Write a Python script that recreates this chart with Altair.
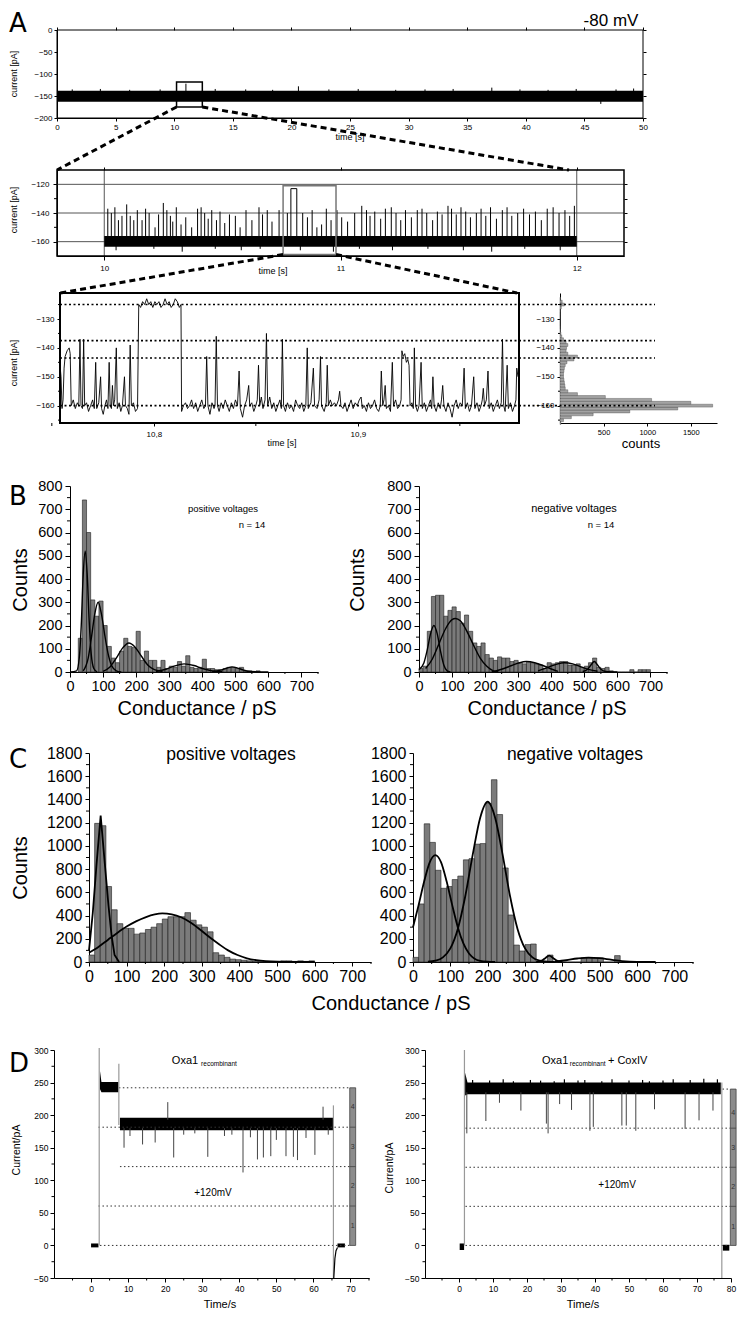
import altair as alt
import pandas as pd

FONT = "Liberation Sans"
LETTER_FONT = "DejaVu Sans"

# ======================= DATA =======================
# ---- A (top): 50 s recording at -80 mV, envelope of the noisy band ----
a1_time = [0, 50]
a1_low = [-163, -163]
a1_high = [-138, -138]
a1_spike_time = [1.3, 3.7, 6.2, 8.8, 11.0, 13.5, 16.1, 18.4, 20.6, 23.2, 25.7, 28.9, 31.4, 33.8, 37.1, 39.5,
                 41.9, 44.3, 46.4, 47.7, 49.2]
a1_spike_top = [-135, -134, -136, -135, -122, -134, -135, -136, -128, -135, -134, -136, -135, -134, -131, -135,
                -136, -134, -168, -135, -133]
a1_window_time = [10.2, 12.4]
a1_window_current = [-118, -175]

# ---- A (middle): 10-12 s ----
a2_time = [10.0, 12.0]
a2_low = [-163.5, -163.5]
a2_high = [-156, -156]
a2_dip_time = [10.05, 10.21, 10.33, 10.47, 10.58, 10.66, 10.83, 10.97, 11.08, 11.22, 11.37, 11.52, 11.64, 11.78, 11.93]
a2_dip_low = [-166, -165, -167, -165, -166, -165, -166, -167, -165, -166, -165, -166, -167, -165, -166]
a2_spike_time = [10.015, 10.03, 10.045, 10.06, 10.075, 10.095, 10.11, 10.125, 10.14, 10.16, 10.175, 10.19, 10.215, 10.23,
                 10.25, 10.265, 10.28, 10.29, 10.305, 10.325, 10.345, 10.37, 10.395, 10.41, 10.425, 10.44, 10.455, 10.475,
                 10.49, 10.51, 10.53, 10.555, 10.575, 10.6, 10.625, 10.655, 10.67, 10.69, 10.71, 10.74, 10.775, 10.84,
                 10.86, 10.88, 10.9, 10.92, 10.94, 10.96, 10.985, 11.005, 11.03, 11.06, 11.09, 11.11, 11.125, 11.145,
                 11.17, 11.19, 11.215, 11.235, 11.255, 11.275, 11.3, 11.325, 11.345, 11.365, 11.39, 11.41, 11.43, 11.455,
                 11.47, 11.49, 11.51, 11.53, 11.55, 11.575, 11.595, 11.615, 11.635, 11.66, 11.685, 11.705, 11.725, 11.75,
                 11.775, 11.8, 11.825, 11.85, 11.875, 11.9, 11.925, 11.95, 11.97, 11.99]
a2_spike_top = [-137, -140, -136, -145, -142, -134, -142, -145, -138, -145, -137, -140, -150, -141,
                -133, -138, -142, -146, -136, -148, -143, -150, -137, -136, -140, -144, -138, -145,
                -139, -147, -141, -142, -150, -138, -145, -136, -141, -138, -146, -138, -140, -140,
                -143, -138, -150, -148, -137, -145, -138, -143, -146, -140, -135, -138, -142, -139,
                -144, -137, -136, -140, -145, -138, -143, -138, -137, -140, -145, -139, -141, -135,
                -137, -141, -136, -139, -143, -140, -137, -142, -136, -144, -138, -136, -142, -140,
                -137, -141, -139, -145, -137, -136, -140, -138, -142, -135]
a2_block_time = [10.79, 10.815]
a2_block_current = [-160, -123]
a2_window_time = [10.757, 10.981]
a2_window_current = [-121, -169]
a2_grid_current = [-120, -140, -160]
a2_grid_time = [10, 12]

# ---- A (bottom): 10.75-10.98 s, (time [s], current [pA]) ----
a3_points = [
    (10.7540, -146), (10.7545, -150), (10.7550, -161), (10.7555, -158), (10.7560, -147), (10.7565, -143),
    (10.7575, -141), (10.7585, -140), (10.7590, -142), (10.7595, -160), (10.7605, -158), (10.7615, -161),
    (10.7625, -159), (10.7632, -160), (10.7638, -137), (10.7643, -160), (10.7650, -161), (10.7656, -137),
    (10.7661, -160), (10.7670, -159), (10.7680, -162), (10.7690, -160), (10.7700, -158), (10.7708, -161),
    (10.7715, -145), (10.7720, -161), (10.7730, -159), (10.7739, -150), (10.7744, -161), (10.7752, -163),
    (10.7760, -160), (10.7768, -158), (10.7775, -161), (10.7781, -145), (10.7786, -160), (10.7792, -161),
    (10.7797, -153), (10.7802, -160), (10.7808, -158), (10.7816, -140), (10.7821, -161), (10.7830, -159),
    (10.7838, -162), (10.7846, -160), (10.7856, -150), (10.7861, -160), (10.7870, -161), (10.7878, -163),
    (10.7884, -139), (10.7890, -160), (10.7900, -159), (10.7910, -162), (10.7920, -161), (10.7926, -125),
    (10.7935, -126), (10.7945, -124), (10.7955, -125), (10.7965, -123), (10.7975, -125), (10.7985, -124),
    (10.7995, -126), (10.8005, -124), (10.8015, -125), (10.8025, -124), (10.8035, -126), (10.8045, -125),
    (10.8055, -123), (10.8065, -125), (10.8075, -124), (10.8085, -126), (10.8095, -125), (10.8105, -123),
    (10.8115, -124), (10.8125, -126), (10.8133, -125), (10.8136, -162), (10.8145, -160), (10.8155, -159),
    (10.8165, -161), (10.8175, -160), (10.8185, -158), (10.8195, -161), (10.8205, -159), (10.8215, -162),
    (10.8225, -160), (10.8235, -158), (10.8245, -161), (10.8253, -160), (10.8259, -143), (10.8265, -160),
    (10.8275, -163), (10.8285, -159), (10.8295, -161), (10.8300, -160), (10.8306, -136), (10.8312, -160),
    (10.8320, -162), (10.8330, -159), (10.8340, -161), (10.8350, -158), (10.8360, -160), (10.8370, -162),
    (10.8380, -159), (10.8390, -161), (10.8400, -158), (10.8410, -160), (10.8418, -148), (10.8424, -161),
    (10.8435, -164), (10.8445, -160), (10.8455, -158), (10.8465, -153), (10.8470, -160), (10.8480, -159),
    (10.8490, -162), (10.8500, -160), (10.8507, -158), (10.8513, -146), (10.8519, -160), (10.8527, -157),
    (10.8535, -161), (10.8545, -158), (10.8552, -135), (10.8558, -160), (10.8568, -157), (10.8578, -161),
    (10.8588, -159), (10.8598, -162), (10.8608, -160), (10.8618, -158), (10.8625, -161), (10.8630, -137),
    (10.8636, -160), (10.8645, -162), (10.8655, -159), (10.8665, -161), (10.8675, -160), (10.8685, -162),
    (10.8695, -158), (10.8705, -160), (10.8715, -161), (10.8725, -159), (10.8735, -162), (10.8745, -160),
    (10.8752, -140), (10.8757, -161), (10.8770, -159), (10.8782, -147), (10.8788, -160), (10.8800, -161),
    (10.8810, -158), (10.8817, -143), (10.8822, -160), (10.8835, -162), (10.8845, -159), (10.8850, -146),
    (10.8856, -160), (10.8865, -158), (10.8875, -160), (10.8885, -159), (10.8895, -160), (10.8905, -158),
    (10.8911, -155), (10.8917, -160), (10.8927, -161), (10.8937, -159), (10.8947, -162), (10.8957, -160),
    (10.8967, -158), (10.8977, -161), (10.8987, -159), (10.8997, -160), (10.9007, -158), (10.9016, -157),
    (10.9022, -161), (10.9032, -160), (10.9042, -162), (10.9052, -159), (10.9062, -161), (10.9072, -160),
    (10.9082, -158), (10.9092, -161), (10.9102, -162), (10.9110, -160), (10.9115, -148), (10.9122, -160),
    (10.9128, -158), (10.9134, -153), (10.9140, -161), (10.9150, -160), (10.9160, -162), (10.9169, -145),
    (10.9175, -160), (10.9185, -158), (10.9195, -161), (10.9205, -160), (10.9212, -158), (10.9216, -141),
    (10.9222, -143), (10.9230, -142), (10.9238, -145), (10.9245, -144), (10.9251, -146), (10.9256, -160),
    (10.9265, -159), (10.9272, -161), (10.9277, -140), (10.9283, -160), (10.9292, -162), (10.9300, -160),
    (10.9310, -145), (10.9316, -161), (10.9326, -159), (10.9336, -162), (10.9346, -160), (10.9356, -158),
    (10.9362, -161), (10.9368, -150), (10.9374, -160), (10.9384, -162), (10.9394, -159), (10.9404, -161),
    (10.9410, -158), (10.9416, -153), (10.9422, -160), (10.9432, -162), (10.9442, -159), (10.9452, -161),
    (10.9462, -164), (10.9472, -160), (10.9482, -158), (10.9492, -161), (10.9502, -159), (10.9512, -160),
    (10.9521, -147), (10.9527, -161), (10.9537, -159), (10.9547, -162), (10.9557, -160), (10.9568, -150),
    (10.9574, -161), (10.9584, -159), (10.9594, -162), (10.9604, -160), (10.9610, -158), (10.9615, -154),
    (10.9621, -160), (10.9630, -158), (10.9638, -148), (10.9644, -161), (10.9654, -159), (10.9664, -162),
    (10.9674, -160), (10.9684, -158), (10.9694, -161), (10.9703, -159), (10.9709, -137), (10.9715, -160),
    (10.9722, -162), (10.9732, -146), (10.9738, -161), (10.9748, -159), (10.9758, -162), (10.9768, -160),
    (10.9775, -158), (10.9779, -147), (10.9785, -150),
]
a3_time = [p[0] for p in a3_points]
a3_current = [p[1] for p in a3_points]
a3_levels = [-125, -137.5, -143.5, -160]

# ---- A (histogram of the bottom trace) ----
a4_current = [-166, -165, -164, -163, -162, -161, -160, -159, -158, -157, -156, -155, -154, -153, -152, -151,
              -150, -149, -148, -147, -146, -145, -144, -143, -142, -141, -140, -139, -138, -137, -136, -135,
              -134, -133, -132, -131, -130, -129, -128, -127, -126, -125, -124, -123]
a4_counts = [10, 40, 130, 380, 800, 1350, 1750, 1500, 1050, 520, 200, 90, 60, 55, 50, 45,
             40, 40, 45, 50, 60, 80, 160, 200, 90, 70, 75, 90, 70, 40, 20, 10,
             5, 3, 2, 2, 2, 2, 2, 3, 15, 50, 25, 5]

# ---- B: conductance histograms (bin 12.5 pS) ----
b_bin = 12.5
bl_start = [25 + 12.5 * i for i in range(44)]
bl_counts = [145, 740, 600, 310, 240, 305, 200, 110, 60, 40, 90, 145, 110, 105, 175, 50, 90, 50, 50, 20, 50, 15,
             25, 20, 45, 25, 70, 20, 15, 20, 55, 15, 15, 10, 10, 15, 20, 20, 15, 20, 5, 5, 0, 5]
br_start = [12.5 * i for i in range(56)]
br_counts = [15, 25, 175, 325, 330, 330, 240, 265, 280, 260, 210, 245, 175, 125, 110, 125, 75, 60, 50, 65, 60,
             60, 45, 50, 40, 35, 45, 40, 35, 30, 15, 40, 35, 40, 45, 45, 30, 30, 35, 20, 25, 40, 60, 20, 15, 20,
             5, 0, 0, 0, 0, 10, 0, 10, 10, 10]
bl_fit_id = [1] * 11 + [2] * 11 + [3] * 10 + [4] * 8 + [5] * 8
bl_fit_x = [0, 20, 28, 34, 40, 46, 52, 58, 64, 72, 82,
            40, 55, 65, 75, 85, 95, 105, 115, 125, 140, 155,
            100, 120, 140, 160, 178, 195, 215, 235, 255, 280,
            260, 290, 315, 345, 375, 400, 430, 460,
            430, 455, 475, 490, 505, 525, 545, 600]
bl_fit_y = [0, 5, 60, 200, 420, 520, 420, 220, 80, 15, 0,
            5, 60, 150, 250, 300, 250, 160, 80, 30, 5, 0,
            3, 20, 60, 105, 125, 110, 70, 30, 10, 2,
            2, 12, 25, 35, 28, 15, 5, 1,
            2, 8, 17, 22, 18, 8, 2, 0]
br_fit_id = [1] * 10 + [2] * 13 + [3] * 9 + [4] * 8 + [5] * 8
br_fit_x = [0, 15, 25, 35, 45, 55, 65, 75, 85, 95,
            20, 40, 60, 80, 100, 110, 125, 145, 165, 185, 205, 225, 240,
            220, 250, 275, 300, 325, 350, 375, 400, 420,
            360, 390, 415, 440, 465, 490, 515, 540,
            495, 510, 520, 530, 540, 550, 565, 600]
br_fit_y = [10, 40, 95, 165, 200, 165, 90, 30, 5, 0,
            15, 55, 120, 185, 225, 230, 220, 175, 115, 60, 25, 5, 0,
            0, 12, 25, 38, 45, 40, 28, 13, 3,
            5, 20, 33, 40, 35, 22, 10, 3,
            2, 12, 30, 45, 30, 12, 2, 0]

# ---- C: conductance histograms (bin 15 pS) ----
c_bin = 15
cl_start = [15 * i for i in range(40)]
cl_counts = [60, 1194, 1174, 650, 450, 330, 290, 290, 240, 250, 280, 300, 330, 370, 390, 390, 390, 425, 360, 320,
             300, 260, 80, 60, 40, 25, 20, 15, 10, 5, 5, 5, 5, 5, 10, 10, 5, 10, 5, 10]
cr_start = [15 * i for i in range(37)]
cr_counts = [40, 500, 1190, 1030, 790, 635, 650, 710, 740, 880, 890, 1015, 1020, 1365, 1570, 1270, 810, 405, 146,
             95, 150, 155, 0, 0, 60, 0, 0, 0, 0, 0, 35, 35, 35, 35, 0, 0, 55]
cl_fit1_x = [0, 10, 20, 31, 42, 52, 60, 68, 80]
cl_fit1_y = [100, 420, 840, 1260, 850, 480, 230, 60, 0]
cl_fit2_x = [0, 25, 50, 75, 100, 125, 150, 175, 195, 220, 245, 270, 295, 320, 345, 370, 395, 420, 445, 470, 500, 540, 600]
cl_fit2_y = [80, 130, 190, 250, 305, 350, 385, 410, 418, 410, 385, 340, 280, 215, 155, 100, 60, 32, 16, 7, 2, 0, 0]
cr_fit_id = [1] * 15 + [2] * 18 + [3] * 7 + [4] * 9
cr_fit_x = [0, 15, 30, 45, 60, 75, 90, 105, 120, 135, 150, 165, 180, 200, 220,
            40, 60, 80, 100, 120, 140, 160, 180, 200, 220, 240, 260, 280, 300, 320, 340, 360, 380,
            330, 345, 355, 365, 375, 385, 400,
            380, 410, 440, 470, 500, 530, 560, 600, 650]
cr_fit_y = [300, 490, 695, 860, 920, 860, 695, 490, 300, 160, 73, 29, 10, 2, 0,
            2, 11, 40, 117, 285, 566, 925, 1243, 1380, 1243, 925, 566, 285, 117, 40, 11, 2, 0,
            0, 12, 35, 55, 35, 12, 0,
            3, 15, 30, 38, 33, 20, 8, 1, 0]

# ---- D left: Oxa1 recombinant, +120 mV ----
d1_band_seg = [1, 1, 2, 2, 2, 3, 3, 4, 4]
d1_band_time = [0, 2.0, 2.4, 2.8, 7.4, 7.8, 65.3, 66.5, 68.5]
d1_band_low = [-3, -3, 240, 235, 235, 177, 177, -3, -3]
d1_band_high = [3, 3, 268, 251, 251, 196, 196, 3, 3]
d1_spike_time = [8.9, 10.5, 13.9, 17.3, 20.7, 22.3, 25.0, 28.0, 31.5, 36.0, 38.0, 41.0, 43.0, 44.9, 46.5, 48.5,
                 50.0, 52.6, 54.6, 55.7, 58.0, 60.4, 62.6, 64.0]
d1_spike_top = [150, 168, 155, 158, 220, 135, 170, 172, 136, 168, 170, 112, 166, 132, 135, 137,
                162, 137, 136, 131, 165, 139, 213, 170]
d1_trans_time = [2.2, 7.5, 65.4]
d1_trans_from = [0, 185, 215]
d1_trans_to = [303, 279, -50]
d1_recovery_time = [65.5, 65.8, 66.1, 66.5]
d1_recovery_current = [-50, -20, -8, -3]
d1_level_current = [0, 60.5, 121, 181.5, 242]
d1_level_start = [2.4, 2.0, 7.8, 2.0, 7.5]
d1_level_end = 69.8
d1_bar_time = [69.8, 71.4]
d1_bar_label_current = [30, 91, 151, 212]

# ---- D right: Oxa1 recombinant + CoxIV, +120 mV ----
d2_band_seg = [1, 1, 2, 2, 2, 3, 3]
d2_band_time = [0.2, 1.5, 1.8, 2.5, 77, 77.6, 79.5]
d2_band_low = [-7, -7, 230, 232, 232, -8, -8]
d2_band_high = [3, 3, 265, 250, 250, 1, 1]
d2_noise_time = [4, 9, 13, 16, 21, 24, 28, 31, 35, 37, 42, 45, 50, 54, 56, 60, 63, 68, 72, 76]
d2_noise_top = [254, 253, 255, 252, 254, 253, 252, 255, 253, 254, 252, 255, 253, 254, 252, 253, 255, 254, 256, 255]
d2_spike_time = [2.3, 7.9, 11.9, 18.2, 25.7, 26.2, 29.6, 33.1, 38.5, 39.5, 47.9, 49.2, 52.0, 57.5, 66.5, 70.6, 74.7]
d2_spike_top = [172, 191, 219, 207, 187, 172, 217, 208, 176, 182, 184, 184, 176, 209, 179, 192, 207]
d2_trans_time = [1.6, 77.3]
d2_trans_from = [0, 250]
d2_trans_to = [300, -50]
d2_level_current = [0, 60, 120, 180, 240]
d2_level_start = [1.9, 1.9, 1.9, 1.9, 77.5]
d2_level_end = 79.8
d2_bar_time = [79.8, 81.5]
d2_bar_label_current = [29, 90, 149, 204]

# ======================= HELPERS =======================
W_ALL, H_ALL = 729, 1303   # drawing area (page minus the 8 px margin)
M = 8                       # page margin


class Panel:
    """A sub-plot placed at page pixel coordinates, with its own scales."""

    def __init__(self, xdom, ydom, left, right, top, bottom):
        self.xdom, self.ydom = xdom, ydom
        self.l, self.r, self.t, self.b = left - M, right - M, top - M, bottom - M
        self.xs = alt.Scale(domain=xdom, range=[self.l, self.r], nice=False, zero=False)
        self.ys = alt.Scale(domain=ydom, range=[self.b, self.t], nice=False, zero=False)

    def X(self, field, axis=None):
        return alt.X(field, scale=self.xs, axis=axis)

    def Y(self, field, axis=None):
        return alt.Y(field, scale=self.ys, axis=axis)

    def _axis(self, values, size, tick, pad, expr, fmt, orient, offset, labels, domain, dw):
        kw = dict(values=values, orient=orient, offset=offset, labelFontSize=size, labelFont=FONT,
                  tickSize=tick, labelPadding=pad, domainColor="black", tickColor="black",
                  labelColor="black", title=None, grid=False, labelOverlap=False, labelFlush=False,
                  labels=labels, domain=domain, domainWidth=dw, tickWidth=1)
        if expr is not None:
            kw["labelExpr"] = expr
        if fmt is not None:
            kw["format"] = fmt
        return alt.Axis(**kw)

    def xaxis(self, values, size, tick=4, pad=2, expr=None, fmt=None, orient="bottom", labels=True,
              domain=True, dw=1):
        off = (self.b - H_ALL) if orient == "bottom" else -self.t
        return self._axis(values, size, tick, pad, expr, fmt, orient, off, labels, domain, dw)

    def yaxis(self, values, size, tick=4, pad=2, expr=None, fmt=None, orient="left", labels=True,
              domain=True, dw=1):
        off = -self.l if orient == "left" else (self.r - W_ALL)
        return self._axis(values, size, tick, pad, expr, fmt, orient, off, labels, domain, dw)


def T(s, px, py, size, font=FONT, angle=0, align="center", baseline="middle", color="black"):
    """Text placed at page pixel coordinates."""
    return alt.Chart(pd.DataFrame({"s": [s]})).mark_text(
        fontSize=size, font=font, angle=angle, align=align, baseline=baseline, color=color
    ).encode(x=alt.value(px - M), y=alt.value(py - M), text="s:N")


def DT(p, s, x, y, size, align="center", color="black"):
    """Text placed at data coordinates of a panel."""
    return alt.Chart(pd.DataFrame({"s": [s], "x": [x], "y": [y]})).mark_text(
        fontSize=size, font=FONT, align=align, baseline="middle", color=color
    ).encode(x=p.X("x:Q"), y=p.Y("y:Q"), text="s:N")


def frame(p, width=1.0, color="black"):
    return alt.Chart(pd.DataFrame({"a": [0]})).mark_rect(
        fillOpacity=0, stroke=color, strokeWidth=width
    ).encode(x=alt.value(p.l), x2=alt.value(p.r), y=alt.value(p.t), y2=alt.value(p.b))


def yminor(p, vals, length=3):
    return alt.Chart(pd.DataFrame({"v": vals})).mark_rule(color="black", strokeWidth=1).encode(
        y=p.Y("v:Q"), x=alt.value(p.l), x2=alt.value(p.l - length))


def xminor(p, vals, length=3):
    return alt.Chart(pd.DataFrame({"v": vals})).mark_rule(color="black", strokeWidth=1).encode(
        x=p.X("v:Q"), y=alt.value(p.b), y2=alt.value(p.b + length))


def mirror(p, xvals, yvals, tick=3):
    """Tick marks (no labels) on the top and right edges of a boxed panel."""
    df = pd.DataFrame({"x": [p.xdom[0]], "y": [p.ydom[0]]})
    return alt.Chart(df).mark_point(opacity=0).encode(
        x=p.X("x:Q", axis=p.xaxis(xvals, 8, tick=tick, orient="top", labels=False, domain=False)),
        y=p.Y("y:Q", axis=p.yaxis(yvals, 8, tick=tick, orient="right", labels=False, domain=False)))


def connector(p, t, v, px, py):
    return alt.Chart(pd.DataFrame({"t": [t], "v": [v]})).mark_rule(
        color="black", strokeWidth=3, strokeDash=[6, 4]
    ).encode(x=p.X("t:Q"), y=p.Y("v:Q"), x2=alt.value(px - M), y2=alt.value(py - M))


def rect(p, t0, t1, v0, v1, **style):
    df = pd.DataFrame({"t0": [t0], "t1": [t1], "v0": [v0], "v1": [v1]})
    return alt.Chart(df).mark_rect(**style).encode(x=p.X("t0:Q"), x2="t1:Q", y=p.Y("v0:Q"), y2="v1:Q")


def rules(p, t, top, base, color="black", width=1.0):
    df = pd.DataFrame({"t": t, "v": top, "b": base if isinstance(base, list) else [base] * len(t)})
    return alt.Chart(df).mark_rule(color=color, strokeWidth=width).encode(
        x=p.X("t:Q"), y=p.Y("v:Q"), y2="b:Q")


L = []

# ======================= PANEL A top =======================
pA1 = Panel([0, 50], [-200, 0], 57, 643, 30, 118)
L += [
    alt.Chart(pd.DataFrame({"t": a1_time, "lo": a1_low, "hi": a1_high})).mark_area(color="black").encode(
        x=pA1.X("t:Q", pA1.xaxis(list(range(0, 51, 5)), 8, tick=3, pad=2)),
        y=pA1.Y("lo:Q", pA1.yaxis([0, -50, -100, -150, -200], 8, tick=3, pad=2)),
        y2="hi:Q"),
    mirror(pA1, list(range(0, 51, 5)), [0, -50, -100, -150, -200]),
    rules(pA1, a1_spike_time, a1_spike_top, -150),
    rect(pA1, a1_window_time[0], a1_window_time[1], a1_window_current[0], a1_window_current[1],
         fillOpacity=0, stroke="black", strokeWidth=1.5),
    frame(pA1, 1),
    connector(pA1, a1_window_time[0], a1_window_current[1], 57, 170),
    connector(pA1, a1_window_time[1], a1_window_current[1], 569, 170),
    T("current [pA]", 14, 74, 9, angle=270),
    T("time [s]", 350, 137, 9),
    T("A", 9, 32, 26, font=LETTER_FONT, align="left", baseline="alphabetic"),
    T("-80 mV", 611, 26, 17, baseline="alphabetic"),
]

# ======================= PANEL A middle =======================
pA2 = Panel([9.8, 12.2], [-170, -110], 57, 624, 170, 256)
L += [
    alt.Chart(pd.DataFrame({"v": a2_grid_current})).mark_rule(color="#555", strokeWidth=1).encode(
        y=pA2.Y("v:Q", pA2.yaxis([-120, -140, -160], 8, tick=4, pad=4)),
        x=alt.value(pA2.l), x2=alt.value(pA2.r)),
    alt.Chart(pd.DataFrame({"t": a2_grid_time})).mark_rule(color="#555", strokeWidth=1).encode(
        x=pA2.X("t:Q", pA2.xaxis([10, 11, 12], 8, tick=4, pad=4)),
        y=alt.value(pA2.t), y2=alt.value(pA2.b)),
    mirror(pA2, [10, 11, 12], [-120, -130, -140, -150, -160]),
    yminor(pA2, [-130, -150], 3),
    alt.Chart(pd.DataFrame({"t": a2_time, "lo": a2_low, "hi": a2_high})).mark_area(color="black").encode(
        x=pA2.X("t:Q"), y=pA2.Y("lo:Q"), y2="hi:Q"),
    rules(pA2, a2_dip_time, a2_dip_low, -160),
    rules(pA2, a2_spike_time, a2_spike_top, -158),
    rect(pA2, a2_block_time[0], a2_block_time[1], a2_block_current[0], a2_block_current[1],
         fillOpacity=0, stroke="black", strokeWidth=1),
    rect(pA2, a2_window_time[0], a2_window_time[1], a2_window_current[0], a2_window_current[1],
         fillOpacity=0, stroke="#777", strokeWidth=1.5),
    frame(pA2, 1.5),
    connector(pA2, a2_window_time[0], a2_window_current[1], 60, 293),
    connector(pA2, a2_window_time[1], a2_window_current[1], 517, 293),
    T("current [pA]", 14, 210, 9, angle=270),
    T("time [s]", 273, 271, 9),
]

# ======================= PANEL A bottom + histogram =======================
pA3 = Panel([10.754, 10.979], [-166, -121], 60, 519, 293, 423)
pA4 = Panel([0, 1800], [-166, -121], 560, 717, 293, 423)
a4_df = pd.DataFrame({"c": a4_counts, "lo": [v - 0.5 for v in a4_current], "hi": [v + 0.5 for v in a4_current]})
L += [
    alt.Chart(pd.DataFrame({"t": a3_time, "v": a3_current})).mark_line(color="black", strokeWidth=0.9).encode(
        x=pA3.X("t:Q", pA3.xaxis([10.8, 10.9], 8, tick=3, pad=4,
                                 expr="replace(format(datum.value, '.1f'), '.', ',')")),
        y=pA3.Y("v:Q", pA3.yaxis([-130, -140, -150, -160], 8, tick=3, pad=3))),
    xminor(pA3, [10.75, 10.85, 10.95], 3),
    yminor(pA3, [-125, -135, -145, -155, -165], 2),
    frame(pA3, 2),
    alt.Chart(a4_df).mark_rect(fill="#a3a3a3", stroke="#4a4a4a", strokeWidth=0.4).encode(
        x=pA4.X("c:Q", pA4.xaxis([500, 1000, 1500], 7.5, tick=3, pad=2, fmt="d")),
        x2=alt.datum(0),
        y=pA4.Y("lo:Q", pA4.yaxis([-130, -140, -150, -160], 8, tick=3, pad=3)),
        y2="hi:Q"),
    yminor(pA4, [-125, -135, -145, -155, -165], 2),
    alt.Chart(pd.DataFrame({"v": a3_levels})).mark_rule(
        color="black", strokeWidth=1.6, strokeDash=[2, 2.5]).encode(
        y=pA4.Y("v:Q"), x=alt.value(60 - M), x2=alt.value(655 - M)),
    T("current [pA]", 14, 363, 9, angle=270),
    T("time [s]", 282, 443, 9),
    T("counts", 641, 444, 13),
]


# ======================= B & C panels =======================
def cond_panel(p, start, binw, counts, fid, fx, fy, yvals, ymin, fs, tick, interp, lw):
    df = pd.DataFrame({"x0": start, "x1": [s + binw for s in start], "c": counts})
    return [
        alt.Chart(df).mark_rect(fill="#7b7b7b", stroke="#1e1e1e", strokeWidth=0.6).encode(
            x=p.X("x0:Q", p.xaxis(list(range(0, 701, 100)), fs, tick=tick, pad=2, fmt="d")),
            x2="x1:Q",
            y=p.Y("c:Q", p.yaxis(yvals, fs, tick=tick, pad=3, fmt="d")),
            y2=alt.datum(0)),
        alt.Chart(pd.DataFrame({"g": fid, "x": fx, "y": fy})).mark_line(
            color="black", strokeWidth=lw, interpolate=interp).encode(
            x=p.X("x:Q"), y=p.Y("y:Q"), detail="g:N"),
        yminor(p, ymin, 3),
        xminor(p, list(range(50, 751, 100)), 2),
    ]


pBL = Panel([0, 750], [0, 800], 70, 318, 486, 672)
pBR = Panel([0, 750], [0, 800], 419, 667, 486, 672)
L += cond_panel(pBL, bl_start, b_bin, bl_counts, bl_fit_id, bl_fit_x, bl_fit_y,
                list(range(0, 801, 100)), list(range(50, 800, 100)), 14.5, 5, "monotone", 1.4)
L += cond_panel(pBR, br_start, b_bin, br_counts, br_fit_id, br_fit_x, br_fit_y,
                list(range(0, 801, 100)), list(range(50, 800, 100)), 14.5, 5, "monotone", 1.4)
L += [
    T("positive voltages", 223, 509, 9.5),
    T("n = 14", 252, 525, 9.5),
    T("negative voltages", 574, 509, 11),
    T("n = 14", 601, 525, 9.5),
    T("Counts", 21, 580, 20, angle=270),
    T("Counts", 358, 580, 20, angle=270),
    T("Conductance / pS", 197, 709, 20),
    T("Conductance / pS", 547, 709, 20),
    T("B", 9, 505, 26, font=LETTER_FONT, align="left", baseline="alphabetic"),
]

pCL = Panel([0, 750], [0, 1800], 89, 371, 753, 962)
pCR = Panel([0, 750], [0, 1800], 413, 693, 753, 962)
L += cond_panel(pCL, cl_start, c_bin, cl_counts, [1] * len(cl_fit1_x), cl_fit1_x, cl_fit1_y,
                list(range(0, 1801, 200)), list(range(100, 1800, 200)), 16, 4, "linear", 1.8)
L += [alt.Chart(pd.DataFrame({"x": cl_fit2_x, "y": cl_fit2_y})).mark_line(
    color="black", strokeWidth=1.8, interpolate="monotone").encode(x=pCL.X("x:Q"), y=pCL.Y("y:Q"))]
L += cond_panel(pCR, cr_start, c_bin, cr_counts, cr_fit_id, cr_fit_x, cr_fit_y,
                list(range(0, 1801, 200)), list(range(100, 1800, 200)), 16, 4, "monotone", 1.8)
L += [
    T("positive voltages", 231, 755, 17.5),
    T("negative voltages", 575, 755, 17.5),
    T("Counts", 21, 868, 20, angle=270),
    T("Conductance / pS", 391, 1004, 20),
    T("C", 9, 768, 26, font=LETTER_FONT, align="left", baseline="alphabetic"),
]


# ======================= D panels =======================
def d_panel(p, xvals, xmin, seg, bt, blo, bhi, st, stop, base_down, base_up, tt, tf, tto, lv, ls, le,
            bar_t, bar_lbl):
    base = [base_down if v < base_down else base_up for v in stop]
    return [
        alt.Chart(pd.DataFrame({"seg": seg, "t": bt, "lo": blo, "hi": bhi})).mark_area(color="black").encode(
            x=p.X("t:Q", p.xaxis(xvals, 8.5, tick=4, pad=2)),
            y=p.Y("lo:Q", p.yaxis(list(range(-50, 301, 50)), 8.5, tick=4, pad=2)),
            y2="hi:Q", detail="seg:N"),
        yminor(p, list(range(-25, 300, 50)), 2.5),
        xminor(p, xmin, 2.5),
        alt.Chart(pd.DataFrame({"v": lv, "t0": ls, "t1": [le] * len(lv)})).mark_rule(
            color="#333", strokeWidth=1, strokeDash=[1.5, 2.5]).encode(
            x=p.X("t0:Q"), x2="t1:Q", y=p.Y("v:Q")),
        rules(p, tt, tto, tf, color="#999", width=1.2),
        rules(p, st, stop, base, color="#444", width=1),
        rect(p, bar_t[0], bar_t[1], lv[0], lv[-1], fill="#8c8c8c", stroke="#444", strokeWidth=0.8),
        alt.Chart(pd.DataFrame({"v": lv[1:-1], "t0": [bar_t[0]] * 3, "t1": [bar_t[1]] * 3})).mark_rule(
            color="#444", strokeWidth=0.8).encode(x=p.X("t0:Q"), x2="t1:Q", y=p.Y("v:Q")),
        alt.Chart(pd.DataFrame({"s": ["1", "2", "3", "4"], "v": bar_lbl,
                                "t": [(bar_t[0] + bar_t[1]) / 2] * 4})).mark_text(
            fontSize=7, font=FONT, color="#333").encode(x=p.X("t:Q"), y=p.Y("v:Q"), text="s:N"),
    ]


pD1 = Panel([-10, 75], [-50, 300], 54, 369, 1050, 1278)
pD2 = Panel([-10, 80], [-50, 300], 425, 731, 1050, 1278)
L += d_panel(pD1, list(range(0, 71, 10)), list(range(-5, 76, 10)),
             d1_band_seg, d1_band_time, d1_band_low, d1_band_high, d1_spike_time, d1_spike_top, 180, 193,
             d1_trans_time, d1_trans_from, d1_trans_to, d1_level_current, d1_level_start, d1_level_end,
             d1_bar_time, d1_bar_label_current)
L += [
    alt.Chart(pd.DataFrame({"t": d1_recovery_time, "v": d1_recovery_current})).mark_line(
        color="black", strokeWidth=1.2).encode(x=pD1.X("t:Q"), y=pD1.Y("v:Q")),
    DT(pD1, "Oxa1", 21.8, 283, 11, align="left"),
    DT(pD1, "recombinant", 29.7, 278, 6.5, align="left"),
    DT(pD1, "+120mV", 32.9, 81, 10),
]
L += d_panel(pD2, list(range(0, 81, 10)), list(range(-5, 76, 10)),
             d2_band_seg, d2_band_time, d2_band_low, d2_band_high, d2_spike_time, d2_spike_top, 235, 248,
             d2_trans_time, d2_trans_from, d2_trans_to, d2_level_current, d2_level_start, d2_level_end,
             d2_bar_time, d2_bar_label_current)
L += [
    rules(pD2, d2_noise_time, d2_noise_top, 245, color="black", width=1.2),
    DT(pD2, "Oxa1", 24.4, 283, 11, align="left"),
    DT(pD2, "recombinant", 32.6, 278, 6.5, align="left"),
    DT(pD2, "+ CoxIV", 43.8, 283, 11, align="left"),
    DT(pD2, "+120mV", 46.5, 92, 10),
    T("Time/s", 220, 1305, 11),
    T("Time/s", 583, 1305, 11),
    T("Current/pA", 17, 1150, 10.5, angle=270),
    T("Current/pA", 390, 1168, 10.5, angle=270),
    T("D", 9, 1072, 26, font=LETTER_FONT, align="left", baseline="alphabetic"),
]

chart = alt.layer(*L).resolve_scale(x="independent", y="independent").resolve_axis(
    x="independent", y="independent"
).properties(
    width=W_ALL, height=H_ALL, padding=0, autosize=alt.AutoSizeParams(type="none")
).configure_view(stroke="transparent")

chart.save("out.html", embed_options={"renderer": "svg", "actions": False})
